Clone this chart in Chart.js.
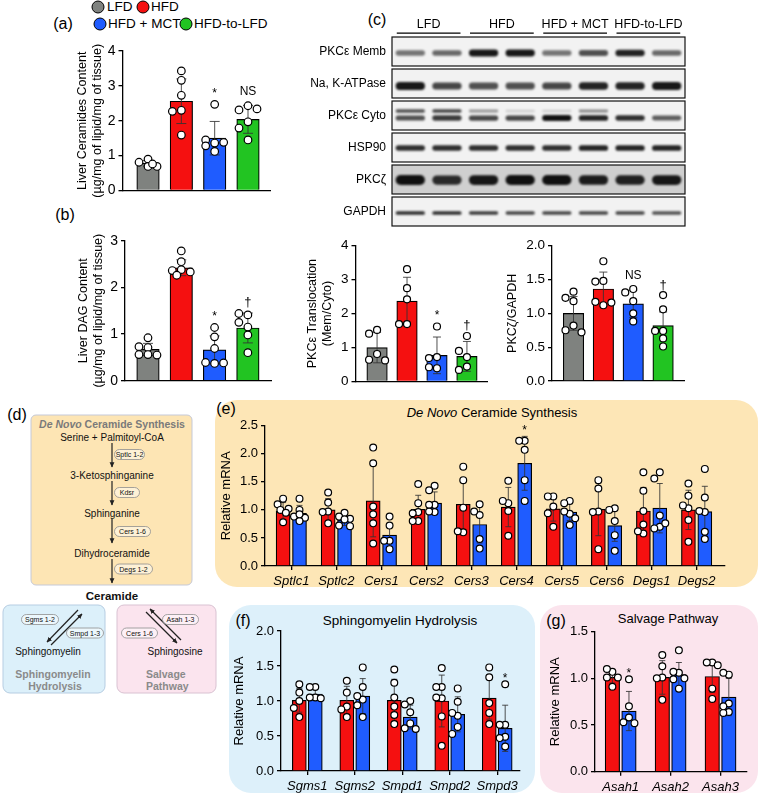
<!DOCTYPE html>
<html>
<head>
<meta charset="utf-8">
<title>Liver ceramides, DAG and PKC figure</title>
<script src="https://cdn.jsdelivr.net/npm/chart.js@4.4.1/dist/chart.umd.min.js"></script>
<style>
  body { margin: 0; background: #fff; }
  #fig { position: relative; width: 760px; height: 796px; overflow: hidden; font-family: "Liberation Sans", Arial, sans-serif; color: #000; }
  #fig canvas { position: absolute; }
  .box { position: absolute; }
  .tag { position: absolute; font-size: 16px; line-height: 16px; transform: translate(-50%, -50%); white-space: nowrap; }
  .ttl { position: absolute; font-size: 13px; line-height: 14px; transform: translate(-50%, -50%); white-space: nowrap; }
  .dot { position: absolute; width: 11px; height: 11px; border: 1.5px solid #000; border-radius: 50%; transform: translate(-50%, -50%); }
  .leg { position: absolute; font-size: 13.5px; line-height: 14px; transform: translateY(-50%); white-space: nowrap; }
  .pill { fill: rgba(255,255,255,0.45); stroke: #8e8e8e; stroke-width: 0.8; }
  .pt { font-size: 7px; text-anchor: middle; fill: #111; }
  .mol { font-size: 10px; text-anchor: middle; fill: #111; }
  .path { font-size: 10.5px; font-weight: bold; fill: #8a8a8a; }
</style>
</head>
<body>
<div id="fig">
  <div class="box" style="left:215px;top:400px;width:543px;height:187px;background:#fde6b6;border-radius:22px"></div>
  <div class="box" style="left:229px;top:605px;width:306px;height:188px;background:#ddf0fa;border-radius:22px"></div>
  <div class="box" style="left:540px;top:605px;width:218px;height:188px;background:#fbe4ed;border-radius:22px"></div>

  <svg class="box" style="left:0;top:0" width="220" height="796" font-family="Liberation Sans, Arial, sans-serif">
    <defs>
      <marker id="ah" viewBox="0 0 10 10" refX="9" refY="5" markerWidth="4.5" markerHeight="4.5" orient="auto">
        <path d="M0,0.5 L10,5 L0,9.5 z" fill="#222"/>
      </marker>
    </defs>
    <rect x="31" y="415" width="161" height="170" rx="5" fill="#fde5b4" stroke="#c5c9d8" stroke-width="1"/>
    <text x="112" y="428" text-anchor="middle" font-size="10.5" font-weight="bold" fill="#7a7a7a"><tspan font-style="italic">De Novo</tspan> Ceramide Synthesis</text>
    <text class="mol" x="112" y="440.5">Serine + Palmitoyl-CoA</text>
    <line x1="112" y1="443" x2="112" y2="467" stroke="#222" stroke-width="1.2" marker-end="url(#ah)"/>
    <rect class="pill" x="114.5" y="449.5" width="30" height="10" rx="5"/>
    <text class="pt" x="129.5" y="457">Sptlc 1-2</text>
    <text class="mol" x="112" y="478.5">3-Ketosphinganine</text>
    <line x1="112" y1="481" x2="112" y2="505" stroke="#222" stroke-width="1.2" marker-end="url(#ah)"/>
    <rect class="pill" x="114.5" y="487.5" width="25" height="10" rx="5"/>
    <text class="pt" x="127" y="495">Kdsr</text>
    <text class="mol" x="112" y="516.5">Sphinganine</text>
    <line x1="112" y1="519" x2="112" y2="543" stroke="#222" stroke-width="1.2" marker-end="url(#ah)"/>
    <rect class="pill" x="114.5" y="526.5" width="36" height="10" rx="5"/>
    <text class="pt" x="132.5" y="534">Cers 1-6</text>
    <text class="mol" x="112" y="556.5">Dihydroceramide</text>
    <line x1="112" y1="559" x2="112" y2="583" stroke="#222" stroke-width="1.2" marker-end="url(#ah)"/>
    <rect class="pill" x="114.5" y="564" width="38" height="10" rx="5"/>
    <text class="pt" x="133.5" y="571.5">Degs 1-2</text>
    <text x="112" y="600" text-anchor="middle" font-size="11.5" font-weight="bold" fill="#111">Ceramide</text>

    <rect x="3" y="605" width="102" height="88" rx="7" fill="#dcf0fa" stroke="#b6cde2" stroke-width="1"/>
    <line x1="78" y1="610" x2="47" y2="642" stroke="#222" stroke-width="1.2" marker-end="url(#ah)"/>
    <line x1="51" y1="645" x2="82" y2="614" stroke="#222" stroke-width="1.2" marker-end="url(#ah)"/>
    <rect class="pill" x="21.5" y="614.5" width="37" height="10" rx="5"/>
    <text class="pt" x="40" y="622">Sgms 1-2</text>
    <rect class="pill" x="66.5" y="628" width="37" height="10" rx="5"/>
    <text class="pt" x="85" y="635.5">Smpd 1-3</text>
    <text class="mol" x="48" y="654.5" font-size="9.5">Sphingomyelin</text>
    <text class="path" x="53" y="677.5" text-anchor="middle">Sphingomyelin</text>
    <text class="path" x="55" y="689.5" text-anchor="middle">Hydrolysis</text>

    <rect x="117" y="605" width="99" height="88" rx="7" fill="#fbe4ee" stroke="#d9c2d2" stroke-width="1"/>
    <line x1="146" y1="612" x2="177" y2="643" stroke="#222" stroke-width="1.2" marker-end="url(#ah)"/>
    <line x1="181" y1="640" x2="150" y2="609" stroke="#222" stroke-width="1.2" marker-end="url(#ah)"/>
    <rect class="pill" x="162.5" y="614.5" width="36" height="10" rx="5"/>
    <text class="pt" x="180.5" y="622">Asah 1-3</text>
    <rect class="pill" x="121.5" y="628" width="36" height="10" rx="5"/>
    <text class="pt" x="139.5" y="635.5">Cers 1-6</text>
    <text class="mol" x="175" y="654.5" font-size="9.5">Sphingosine</text>
    <text class="path" x="146" y="677.5">Salvage</text>
    <text class="path" x="146" y="689.5">Pathway</text>
  </svg>

  <div class="tag" style="left:63px;top:24px">(a)</div>
  <div class="tag" style="left:65px;top:215px">(b)</div>
  <div class="tag" style="left:377px;top:20px">(c)</div>
  <div class="tag" style="left:17px;top:415px">(d)</div>
  <div class="tag" style="left:226px;top:409px">(e)</div>
  <div class="tag" style="left:243px;top:621px">(f)</div>
  <div class="tag" style="left:556px;top:621px">(g)</div>

  <div class="ttl" style="left:492px;top:413px"><i>De Novo</i> Ceramide Synthesis</div>
  <div class="ttl" style="left:400px;top:621px;font-size:13.5px">Sphingomyelin Hydrolysis</div>
  <div class="ttl" style="left:668px;top:619px">Salvage Pathway</div>
</div>

<script>
// groups (a)-(c)
var groups = ["LFD", "HFD", "HFD + MCT", "HFD-to-LFD"]
var groupColors = ["#7f827f", "#f51010", "#1f5cff", "#22c422"]

// (a) liver ceramides
var cerMean = [0.78, 2.56, 1.50, 2.04]
var cerSd = [0.08, 0.64, 0.48, 0.40]
var cerPts = [[0.90, 0.81, 0.69, 0.69, 0.76], [3.43, 3.16, 2.73, 2.30, 2.27, 1.59], [2.47, 1.36, 1.45, 1.38, 1.28, 1.12], [2.43, 2.31, 2.34, 1.97, 1.79, 1.45]]
var cerMarks = ["", "", "*", "NS"]

// (b) liver DAG
var dagMean = [0.67, 2.42, 0.66, 1.13]
var dagSd = [0.13, 0.17, 0.30, 0.32]
var dagPts = [[0.92, 0.71, 0.73, 0.56, 0.55, 0.56], [2.78, 2.55, 2.38, 2.36, 2.33, 2.26], [1.14, 0.94, 0.69, 0.37, 0.39, 0.38], [1.41, 1.44, 1.15, 1.25, 0.98, 0.60]]
var dagMarks = ["", "", "*", "†"]

// (c) PKCe translocation and PKCz/GAPDH
var transMean = [1.0, 2.37, 0.77, 0.74]
var transSd = [0.45, 0.70, 0.54, 0.44]
var transPts = [[1.52, 1.41, 0.81, 0.64, 0.62], [3.31, 2.75, 2.42, 1.69, 1.69], [1.62, 0.72, 0.69, 0.39, 0.42], [1.34, 0.72, 0.90, 0.44, 0.34]]
var transMarks = ["", "", "*", "†"]

var zetaMean = [1.0, 1.36, 1.14, 0.82]
var zetaSd = [0.25, 0.25, 0.2, 0.2]
var zetaPts = [[1.18, 1.32, 1.23, 0.82, 0.75, 0.72], [1.77, 1.48, 1.47, 1.12, 1.17, 1.16], [1.36, 1.31, 1.18, 1.0, 0.88], [1.27, 1.06, 0.74, 0.74, 0.63, 0.51]]
var zetaMarks = ["", "", "NS", "†"]

// (c) blot, band darkness per lane
var blotLabels = ["PKCε Memb", "Na, K-ATPase", "PKCε Cyto", "HSP90", "PKCζ", "GAPDH"]
var membBand = [0.55, 0.6, 0.95, 0.95, 0.55, 0.7, 0.9, 0.6]
var nakBand = [0.95, 0.75, 0.7, 0.7, 0.75, 0.9, 0.9, 0.95]
var cytoUpperBand = [0.7, 0.75, 0.4, 0.15, 0.15, 0.45, 0, 0]
var cytoLowerBand = [0.7, 0.8, 0.75, 0.75, 0.98, 0.9, 0.85, 0.65]
var hspBand = [0.85, 0.85, 0.85, 0.85, 0.85, 0.9, 0.9, 0.9]
var pkczBand = [0.98, 0.85, 0.95, 0.98, 0.98, 0.92, 0.9, 0.95]
var gapdhBand = [0.85, 0.85, 0.8, 0.75, 0.75, 0.75, 0.75, 0.7]

// (e) de novo synthesis genes, HFD vs HFD + MCT
var eGenes = ["Sptlc1", "Sptlc2", "Cers1", "Cers2", "Cers3", "Cers4", "Cers5", "Cers6", "Degs1", "Degs2"]
var eHfdMean = [0.98, 1.0, 1.16, 1.01, 1.10, 1.05, 1.02, 1.01, 0.98, 1.0]
var eMctMean = [0.94, 0.82, 0.55, 1.12, 0.74, 1.83, 0.96, 0.72, 1.03, 0.97]
var eHfdSd = [0.15, 0.2, 0.64, 0.25, 0.45, 0.35, 0.22, 0.47, 0.42, 0.35]
var eMctSd = [0.14, 0.1, 0.2, 0.2, 0.33, 0.48, 0.15, 0.28, 0.44, 0.45]
var eHfdPts = [[1.20, 1.10, 1.02, 1.0, 0.78, 0.95], [1.31, 1.13, 0.97, 0.96, 0.76], [2.11, 1.83, 1.06, 0.92, 0.76, 0.40], [1.46, 1.12, 0.96, 0.94, 0.80, 0.80], [1.77, 1.53, 1.04, 0.60, 0.62], [1.52, 1.12, 1.16, 0.98, 0.54], [1.24, 1.24, 1.06, 0.94, 0.70], [1.53, 1.38, 0.97, 0.96, 0.30], [1.67, 1.34, 0.98, 0.74, 0.58, 0.62], [1.47, 1.25, 1.03, 1.08, 0.82, 0.43]]
var eMctPts = [[1.20, 1.0, 0.88, 0.86, 0.80, 0.92], [0.95, 0.88, 0.84, 0.83, 0.72, 0.71], [0.88, 0.72, 0.45, 0.45, 0.30], [1.43, 1.35, 1.09, 1.09, 0.96, 0.97], [1.10, 0.91, 0.97, 0.48, 0.31], [2.23, 2.23, 2.07, 1.53, 1.16], [1.16, 1.12, 0.93, 0.97, 0.85, 0.73], [1.03, 1.0, 0.80, 0.55, 0.27], [1.67, 1.56, 0.90, 0.70, 0.67, 0.76], [1.73, 1.22, 0.96, 0.98, 0.61, 0.48]]
var eMctMarks = ["", "", "", "", "", "*", "", "", "", ""]

// (f) sphingomyelin hydrolysis genes
var fGenes = ["Sgms1", "Sgms2", "Smpd1", "Smpd2", "Smpd3"]
var fHfdMean = [1.01, 1.01, 1.01, 1.0, 1.04]
var fMctMean = [1.1, 1.07, 0.77, 0.81, 0.61]
var fHfdSd = [0.17, 0.2, 0.3, 0.37, 0.3]
var fMctSd = [0.08, 0.25, 0.17, 0.25, 0.33]
var fHfdPts = [[1.24, 1.12, 1.0, 0.9, 0.77], [1.29, 1.12, 0.92, 0.88, 0.77], [1.45, 1.26, 1.05, 0.92, 0.80, 0.67], [1.47, 1.20, 1.20, 1.04, 1.05, 0.78, 0.36], [1.48, 1.34, 0.97, 0.83, 0.67]]
var fMctPts = [[1.2, 1.2, 1.05, 1.05, 1.04], [1.48, 1.2, 1.02, 1.07, 0.94, 0.77], [1.0, 0.95, 0.84, 0.68, 0.61, 0.60], [1.18, 0.99, 0.79, 0.83, 0.63, 0.53], [1.24, 0.66, 0.66, 0.49, 0.47, 0.35]]
var fMctMarks = ["", "", "", "", "*"]

// (g) salvage pathway genes
var gGenes = ["Asah1", "Asah2", "Asah3"]
var gHfdMean = [1.01, 1.01, 1.02]
var gMctMean = [0.65, 1.04, 0.80]
var gHfdSd = [0.06, 0.18, 0.17]
var gMctSd = [0.21, 0.13, 0.2]
var gHfdPts = [[1.07, 1.10, 1.01, 1.01, 0.91], [1.25, 1.13, 1.01, 1.0, 0.77], [1.17, 1.17, 1.14, 0.89, 0.78]]
var gMctPts = [[0.99, 0.70, 0.58, 0.53, 0.52], [1.3, 1.06, 1.07, 0.99, 0.89, 1.0], [1.04, 1.06, 0.73, 0.64, 0.63, 0.70]]
var gMctMarks = ["*", "", ""]

var FONT = "'Liberation Sans', Arial, sans-serif"
Chart.defaults.font.family = FONT
Chart.defaults.color = "#000"

var fig = document.getElementById("fig")

// legend of (a)
var legendSpots = [[98, 7, 107], [143, 7, 151], [100, 24, 108], [186, 24, 194]]
groups.forEach(function (name, i) {
  var d = document.createElement("div")
  d.className = "dot"
  d.style.left = legendSpots[i][0] + "px"
  d.style.top = legendSpots[i][1] + "px"
  d.style.background = groupColors[i]
  fig.appendChild(d)
  var t = document.createElement("div")
  t.className = "leg"
  t.style.left = legendSpots[i][2] + "px"
  t.style.top = legendSpots[i][1] + "px"
  t.textContent = name
  fig.appendChild(t)
})

function place(left, top, w, h) {
  var cv = document.createElement("canvas")
  cv.width = w
  cv.height = h
  cv.style.left = left + "px"
  cv.style.top = top + "px"
  cv.style.width = w + "px"
  cv.style.height = h + "px"
  fig.appendChild(cv)
  return cv
}

// nudge dots sideways (within maxPx of the bar centre) when they would overlap
function spread(vals, pxY, pxX, r, maxPx) {
  var placed = []
  var cand = [0, -1, 1, -0.5, 0.5]
  return vals.map(function (v) {
    var y = v * pxY
    var best = 0
    var bestD = -1
    for (var k = 0; k < cand.length; k++) {
      var x = cand[k] * maxPx
      var d = placed.reduce(function (m, p) { return Math.min(m, Math.hypot(p[0] - x, p[1] - y)) }, 1e9)
      if (d >= 1.8 * r) { best = x; break }
      if (d > bestD) { bestD = d; best = x }
    }
    placed.push([best, y])
    return best / pxX
  })
}

// error bars and significance marks
var errPlugin = {
  id: "errbars",
  afterDatasetDraw: function (chart, args, opts) {
    var ds = chart.data.datasets[args.index]
    if (!ds.sd) return
    var ctx = chart.ctx
    var y = chart.scales.y
    var c = (opts.cap || 6) / 2
    ctx.save()
    ctx.strokeStyle = "rgba(50,50,50,0.85)"
    ctx.lineWidth = 1
    args.meta.data.forEach(function (bar, i) {
      var m = ds.data[i].y
      var s = ds.sd[i]
      var y1 = y.getPixelForValue(m - s)
      var y2 = y.getPixelForValue(m + s)
      ctx.beginPath()
      ctx.moveTo(bar.x, y1)
      ctx.lineTo(bar.x, y2)
      ctx.moveTo(bar.x - c, y2)
      ctx.lineTo(bar.x + c, y2)
      ctx.moveTo(bar.x - c, y1)
      ctx.lineTo(bar.x + c, y1)
      ctx.stroke()
    })
    ctx.restore()
  },
  afterDatasetsDraw: function (chart, args, opts) {
    var ctx = chart.ctx
    var y = chart.scales.y
    chart.data.datasets.forEach(function (ds, di) {
      if (!ds.marks) return
      var meta = chart.getDatasetMeta(di)
      ds.marks.forEach(function (mk, i) {
        if (!mk) return
        var top = Math.max(Math.max.apply(null, ds.pts[i]), ds.data[i].y + ds.sd[i])
        var py = y.getPixelForValue(top) - (mk === "NS" ? opts.gap + 3 : opts.gap)
        ctx.save()
        ctx.fillStyle = "#000"
        ctx.font = (mk === "†" ? 13 : 12) + "px " + FONT
        ctx.textAlign = "center"
        ctx.textBaseline = "middle"
        ctx.fillText(mk, meta.data[i].x, py)
        ctx.restore()
      })
    })
  }
}
Chart.register(errPlugin)

function makePanel(g, series) {
  var lh = g.titleSize * 1.2
  var left = Math.round(g.titleX - lh / 2)
  var yw = g.axisX - left
  var top = Math.round(g.top - 14)
  var pt = g.top - top
  var xh = g.cats ? 28 : 14
  var w = Math.round(g.right - left + 14)
  var pr = w - (g.right - left)
  var h = Math.ceil(g.bottom - top + xh)
  var pb = h - (g.bottom - top) - xh
  var cv = place(left, top, w, h)
  var pxY = (g.bottom - g.top) / g.yMax
  var pxX = (g.right - g.axisX) / (g.xMax - g.xMin)

  var datasets = []
  series.forEach(function (s) {
    datasets.push({
      type: "bar",
      order: 3,
      data: s.mean.map(function (m, i) { return { x: i + s.shift, y: m } }),
      backgroundColor: s.color,
      borderColor: "#000",
      borderWidth: 1.2,
      barThickness: g.bar,
      grouped: false,
      sd: s.sd,
      pts: s.pts,
      marks: s.marks
    })
    var pts = []
    s.pts.forEach(function (vals, i) {
      var off = spread(vals, pxY, pxX, g.r + 0.6, g.jit)
      vals.forEach(function (v, k) { pts.push({ x: i + s.shift + off[k], y: v }) })
    })
    datasets.push({
      type: "scatter",
      order: 1,
      data: pts,
      pointRadius: g.r,
      pointBackgroundColor: "#fff",
      pointBorderColor: "#000",
      pointBorderWidth: 1.2,
      clip: false
    })
  })

  var xAxis = {
    type: "linear",
    min: g.xMin,
    max: g.xMax,
    offset: false,
    border: { display: true, color: "#000", width: 1.3 },
    afterFit: function (s) { s.height = xh }
  }
  if (g.cats) {
    xAxis.grid = { display: true, drawOnChartArea: false, drawTicks: true, tickLength: 4, color: "#000", lineWidth: 1.3, offset: false }
    xAxis.ticks = {
      autoSkip: false, maxRotation: 0, padding: 4, color: "#000",
      font: { size: 13, style: "italic" },
      callback: function (v, i) { return g.cats[i] }
    }
    xAxis.afterBuildTicks = function (s) { s.ticks = g.cats.map(function (c, i) { return { value: i } }) }
  } else {
    xAxis.grid = { display: false, drawTicks: false }
    xAxis.ticks = { display: false }
  }

  new Chart(cv, {
    type: "bar",
    data: { datasets: datasets },
    options: {
      responsive: false,
      animation: false,
      events: [],
      layout: { padding: { top: pt, right: pr, bottom: pb, left: 0 } },
      plugins: {
        legend: { display: false },
        tooltip: { enabled: false },
        errbars: { cap: g.cap, gap: g.gap }
      },
      scales: {
        x: xAxis,
        y: {
          min: 0,
          max: g.yMax,
          ticks: {
            stepSize: g.step,
            padding: 3,
            color: "#000",
            font: { size: g.tickSize },
            callback: function (v) { return v.toFixed(g.dec) }
          },
          grid: { drawOnChartArea: false, drawTicks: true, tickLength: 4, color: "#000", lineWidth: 1.3 },
          border: { display: true, color: "#000", width: 1.3 },
          title: { display: true, text: g.title, color: "#000", padding: 0, font: { size: g.titleSize } },
          afterFit: function (s) { s.width = yw }
        }
      }
    }
  })
}

function groupSeries(mean, sd, pts, marks) {
  return [{ mean: mean, sd: sd, pts: pts, marks: marks, color: groupColors, shift: 0 }]
}

function pairSeries(hm, hs, hp, mm, ms, mp, marks, d) {
  return [
    { mean: hm, sd: hs, pts: hp, color: groupColors[1], shift: -d },
    { mean: mm, sd: ms, pts: mp, marks: marks, color: groupColors[2], shift: d }
  ]
}

// (a)
makePanel({ axisX: 122.5, top: 51, bottom: 190.5, right: 270, titleX: 82, yMax: 4, step: 1, dec: 0, tickSize: 14, titleSize: 12.5,
  title: ["Liver Ceramides Content", "(µg/mg of lipid/mg of tissue)"], xMin: -0.766, xMax: 3.66, bar: 22.5, cap: 10, r: 3.8, gap: 11, jit: 9 },
  groupSeries(cerMean, cerSd, cerPts, cerMarks))

// (b)
makePanel({ axisX: 125, top: 240.7, bottom: 380.7, right: 271.5, titleX: 83, yMax: 3, step: 1, dec: 0, tickSize: 14, titleSize: 12.5,
  title: ["Liver DAG Content", "(µg/mg of lipid/mg of tissue)"], xMin: -0.69, xMax: 3.71, bar: 22.5, cap: 10, r: 3.8, gap: 11, jit: 9 },
  groupSeries(dagMean, dagSd, dagPts, dagMarks))

// (c) lower charts
makePanel({ axisX: 355.5, top: 245.7, bottom: 381.5, right: 487, titleX: 312, yMax: 4, step: 1, dec: 0, tickSize: 13.5, titleSize: 12.5,
  title: ["PKCε Translocation", "(Mem/Cyto)"], xMin: -0.72, xMax: 3.67, bar: 20.5, cap: 8, r: 3.5, gap: 11, jit: 8 },
  groupSeries(transMean, transSd, transPts, transMarks))

makePanel({ axisX: 552, top: 245.7, bottom: 381, right: 684, titleX: 512, yMax: 2, step: 0.5, dec: 1, tickSize: 13.5, titleSize: 12.5,
  title: "PKCζ/GAPDH", xMin: -0.72, xMax: 3.70, bar: 20.5, cap: 8, r: 3.5, gap: 10, jit: 8 },
  groupSeries(zetaMean, zetaSd, zetaPts, zetaMarks))

// (e)
makePanel({ axisX: 265, top: 425.7, bottom: 566, right: 725, titleX: 227, yMax: 2.5, step: 0.5, dec: 1, tickSize: 13, titleSize: 13,
  title: "Relative mRNA", xMin: -0.584, xMax: 9.63, bar: 14, cap: 6, r: 3.4, gap: 6, jit: 5.5, cats: eGenes },
  pairSeries(eHfdMean, eHfdSd, eHfdPts, eMctMean, eMctSd, eMctPts, eMctMarks, 0.182))

// (f)
makePanel({ axisX: 281, top: 631, bottom: 771, right: 520, titleX: 240, yMax: 2, step: 0.5, dec: 1, tickSize: 13, titleSize: 13,
  title: "Relative mRNA", xMin: -0.554, xMax: 4.48, bar: 14, cap: 6, r: 3.4, gap: 6, jit: 5.5, cats: fGenes },
  pairSeries(fHfdMean, fHfdSd, fHfdPts, fMctMean, fMctSd, fMctPts, fMctMarks, 0.168))

// (g)
makePanel({ axisX: 595, top: 631.7, bottom: 771.7, right: 747, titleX: 556, yMax: 1.5, step: 0.5, dec: 1, tickSize: 13, titleSize: 13,
  title: "Relative mRNA", xMin: -0.514, xMax: 2.53, bar: 14.5, cap: 6, r: 3.4, gap: 6, jit: 5.5, cats: gGenes },
  pairSeries(gHfdMean, gHfdSd, gHfdPts, gMctMean, gMctSd, gMctPts, gMctMarks, 0.166))

// (c) western blot, drawn on the chart's lane/row scales
var blotRows = [
  { bg: "#f2f2f2", bands: [{ vals: membBand, dy: 1.5, h: 7 }] },
  { bg: "#f2f2f2", bands: [{ vals: nakBand, dy: 2.5, h: 8 }] },
  { bg: "#f2f2f2", bands: [{ vals: cytoUpperBand, dy: -4.5, h: 4 }, { vals: cytoLowerBand, dy: 2.5, h: 6 }] },
  { bg: "#f2f2f2", bands: [{ vals: hspBand, dy: 0.5, h: 6 }] },
  { bg: "#cfcfcf", bands: [{ vals: pkczBand, dy: 0.5, h: 10 }] },
  { bg: "#f2f2f2", bands: [{ vals: gapdhBand, dy: 1.5, h: 4 }] }
]

var blotPlugin = {
  id: "blot",
  beforeDatasetsDraw: function (chart) {
    var x = chart.scales.x
    var y = chart.scales.y
    var ctx = chart.ctx
    var lanePx = x.getPixelForValue(2) - x.getPixelForValue(1)
    blotRows.forEach(function (row, r) {
      var cy = y.getPixelForValue(r + 1)
      var half = y.getPixelForValue(r + 1.453) - cy
      ctx.save()
      ctx.fillStyle = row.bg
      ctx.fillRect(x.left, cy - half, x.width, 2 * half)
      ctx.beginPath()
      ctx.rect(x.left, cy - half, x.width, 2 * half)
      ctx.clip()
      ctx.filter = "blur(1.2px)"
      row.bands.forEach(function (band) {
        band.vals.forEach(function (v, i) {
          if (!v) return
          var cx = x.getPixelForValue(i + 1)
          var bh = band.h * (0.5 + 0.5 * v)
          var bw = lanePx * 0.8
          ctx.fillStyle = "rgba(12,12,12," + v + ")"
          ctx.beginPath()
          ctx.roundRect(cx - bw / 2, cy + band.dy - bh / 2, bw, bh, bh / 2)
          ctx.fill()
        })
      })
      ctx.restore()
      ctx.save()
      ctx.strokeStyle = "#111"
      ctx.lineWidth = 1.2
      ctx.strokeRect(x.left, cy - half, x.width, 2 * half)
      ctx.restore()
    })
    // group underlines
    ctx.save()
    ctx.strokeStyle = "#000"
    ctx.lineWidth = 1.2
    groups.forEach(function (gname, i) {
      var mid = 1.5 + 2 * i
      var ly = chart.chartArea.top - 2.3
      ctx.beginPath()
      ctx.moveTo(x.getPixelForValue(mid - 0.87), ly)
      ctx.lineTo(x.getPixelForValue(mid + 0.87), ly)
      ctx.stroke()
    })
    ctx.restore()
  }
}

;(function () {
  var left = 300, areaLeft = 392, areaRight = 685, areaTop = 35.5, areaBottom = 227.5
  var yw = areaLeft - left
  var topAxis = 20, padTop = 4, padBottom = 16
  var top = Math.round(areaTop - topAxis - padTop)
  var w = Math.round(areaRight - left + 12)
  var h = Math.round(areaBottom - top + padBottom)
  var cv = place(left, top, w, h)
  new Chart(cv, {
    type: "scatter",
    data: { datasets: [{ data: [] }] },
    options: {
      responsive: false,
      animation: false,
      events: [],
      layout: { padding: { top: areaTop - topAxis - top, right: w - (areaRight - left), bottom: h - (areaBottom - top), left: 0 } },
      plugins: { legend: { display: false }, tooltip: { enabled: false } },
      scales: {
        x: {
          type: "linear", position: "top", min: 0.5, max: 8.5,
          grid: { display: false, drawTicks: false }, border: { display: false },
          ticks: { font: { size: 12.5 }, color: "#000", padding: 3, autoSkip: false, maxRotation: 0,
            callback: function (v, i) { return groups[i] } },
          afterBuildTicks: function (s) { s.ticks = groups.map(function (gn, i) { return { value: 1.5 + 2 * i } }) },
          afterFit: function (s) { s.height = topAxis }
        },
        y: {
          type: "linear", reverse: true, min: 0.5, max: 6.5,
          grid: { display: false, drawTicks: false }, border: { display: false },
          ticks: { font: { size: 12 }, color: "#000", padding: 6, autoSkip: false,
            callback: function (v, i) { return blotLabels[i] } },
          afterBuildTicks: function (s) { s.ticks = blotLabels.map(function (l, i) { return { value: i + 1 } }) },
          afterFit: function (s) { s.width = yw }
        }
      }
    },
    plugins: [blotPlugin]
  })
})()
</script>
</body>
</html>
